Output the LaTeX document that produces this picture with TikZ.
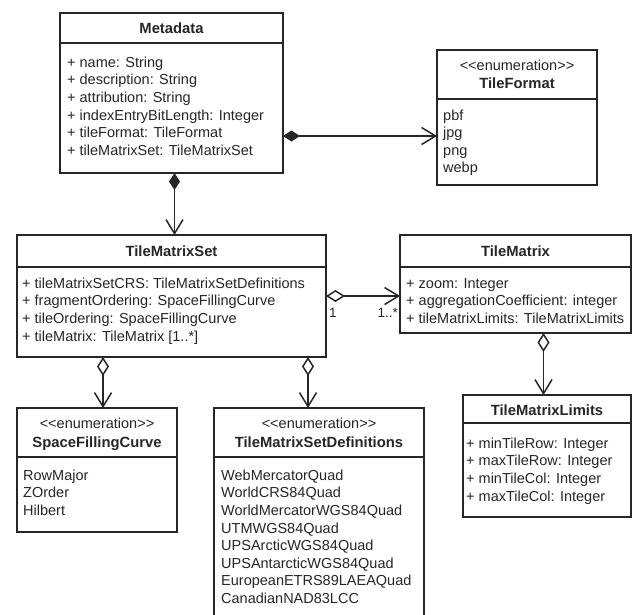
\documentclass[tikz,border=0pt]{standalone}
\usepackage{fontspec}
\setmainfont{Liberation Sans}[Ligatures=TeXOff]
\usetikzlibrary{arrows.meta}
\definecolor{ink}{HTML}{262626}
\tikzset{
  box/.style={draw=ink, line width=1.5pt, fill=white, inner sep=0pt, outer sep=0pt, anchor=north west},
  ttl/.style={font=\fontsize{14.8}{17.6}\selectfont\bfseries, text=ink, inner sep=0pt, text height=10.6pt, text depth=0pt},
  stereo/.style={font=\fontsize{14.5}{17.6}\selectfont, text=ink, inner sep=0pt, text height=10.6pt, text depth=0pt},
  attrs/.style={font=\fontsize{14.5}{17.6}\selectfont, text=ink, align=left, anchor=north west, inner sep=0pt},
  mult/.style={font=\fontsize{13.5}{15}\selectfont, text=ink, inner sep=0pt},
  conn/.style={draw=ink, line width=1.5pt},
  comp/.style={conn, {Diamond[length=17pt,width=11pt]}-{Straight Barb[length=14pt,width=17pt]}},
  aggr/.style={conn, {Diamond[open,length=19pt,width=12pt]}-{Straight Barb[length=14pt,width=17pt]}}
}
\begin{document}
\begin{tikzpicture}[x=1pt,y=-1pt]
\useasboundingbox (0,0) rectangle (632,614);
\clip (0,0) rectangle (632,614);
% Metadata
\node[box, minimum width=223pt, minimum height=30pt] (metaH) at (60,13) {};
\node[box, minimum width=223pt, minimum height=130pt] (metaB) at (60,43) {};
\node[ttl] (metaT) at (171.5,28) {Metadata};
\node[attrs] (metaA) at (67,54.7) {\strut+ name: String\\+ description: String\\+ attribution: String\\+ indexEntryBitLength: Integer\\+ tileFormat: TileFormat\\+ tileMatrixSet: TileMatrixSet};
% TileFormat
\node[box, minimum width=160pt, minimum height=49pt] (fmtH) at (437,50) {};
\node[box, minimum width=160pt, minimum height=86pt] (fmtB) at (437,99) {};
\node[stereo] (fmtS) at (517,65) {<<enumeration>>};
\node[ttl] (fmtT) at (517,83) {TileFormat};
\node[attrs] (fmtA) at (443,107.5) {\strut pbf\\jpg\\png\\webp};
% TileMatrixSet
\node[box, minimum width=309pt, minimum height=32pt] (tmsH) at (17,235) {};
\node[box, minimum width=309pt, minimum height=90pt] (tmsB) at (17,267) {};
\node[ttl] (tmsT) at (171.5,251) {TileMatrixSet};
\node[attrs] (tmsA) at (22,275.7) {\strut+ tileMatrixSetCRS: TileMatrixSetDefinitions\\+ fragmentOrdering: SpaceFillingCurve\\+ tileOrdering: SpaceFillingCurve\\+ tileMatrix: TileMatrix [1..*]};
% TileMatrix
\node[box, minimum width=231pt, minimum height=32pt] (tmH) at (400,235) {};
\node[box, minimum width=231pt, minimum height=66pt] (tmB) at (400,267) {};
\node[ttl] (tmT) at (515.5,251) {TileMatrix};
\node[attrs] (tmA) at (406,275.7) {\strut+ zoom: Integer\\+ aggregationCoefficient: integer\\+ tileMatrixLimits: TileMatrixLimits};
% TileMatrixLimits
\node[box, minimum width=168pt, minimum height=28pt] (limH) at (463,395) {};
\node[box, minimum width=168pt, minimum height=94pt] (limB) at (463,423) {};
\node[ttl] (limT) at (547,410) {TileMatrixLimits};
\node[attrs] (limA) at (466,435.7) {\strut+ minTileRow: Integer\\+ maxTileRow: Integer\\+ minTileCol: Integer\\+ maxTileCol: Integer};
% SpaceFillingCurve
\node[box, minimum width=160pt, minimum height=49pt] (sfcH) at (17,408) {};
\node[box, minimum width=160pt, minimum height=75pt] (sfcB) at (17,457) {};
\node[stereo] (sfcS) at (97,423) {<<enumeration>>};
\node[ttl] (sfcT) at (97,442) {SpaceFillingCurve};
\node[attrs] (sfcA) at (23,467.7) {\strut RowMajor\\ZOrder\\Hilbert};
% TileMatrixSetDefinitions
\node[box, minimum width=210pt, minimum height=49pt] (defH) at (214,408) {};
\node[box, minimum width=210pt, minimum height=170pt] (defB) at (214,457) {};
\node[stereo] (defS) at (319,423) {<<enumeration>>};
\node[ttl] (defT) at (319,442) {TileMatrixSetDefinitions};
\node[attrs] (defA) at (221,467.7) {\strut WebMercatorQuad\\WorldCRS84Quad\\WorldMercatorWGS84Quad\\UTMWGS84Quad\\UPSArcticWGS84Quad\\UPSAntarcticWGS84Quad\\EuropeanETRS89LAEAQuad\\CanadianNAD83LCC};
% connectors
\draw[comp] ([xshift=3pt]metaB.south) -- ([xshift=3pt]tmsH.north);
\draw[comp] ([yshift=-93pt]metaB.north east) -- ([yshift=-37pt]fmtB.north west);
\draw[aggr] ([yshift=-29pt]tmsB.north east) -- ([yshift=-29pt]tmB.north west);
\draw[aggr] ([xshift=143.5pt]tmB.south west) -- ([xshift=80.5pt]limH.north west);
\draw[aggr] ([xshift=86pt]tmsB.south west) -- ([xshift=86pt]sfcH.north west);
\draw[aggr] ([xshift=291pt]tmsB.south west) -- ([xshift=94pt]defH.north west);
% multiplicities
\node[mult, anchor=west] (m1) at (329,313) {1};
\node[mult, anchor=east] (m2) at (398,313) {1..*};
\end{tikzpicture}
\end{document}
